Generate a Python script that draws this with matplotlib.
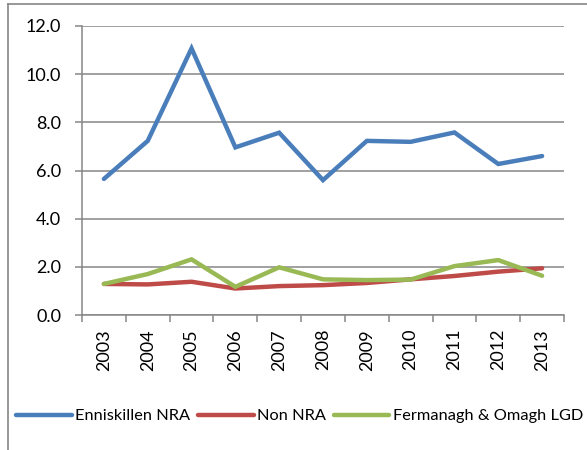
import numpy as np
from matplotlib import pyplot as plt
from matplotlib.lines import Line2D

plt.rcParams['font.family'] = ['Lato', 'DejaVu Sans']

years = ['2003', '2004', '2005', '2006', '2007', '2008', '2009', '2010', '2011', '2012', '2013']
enniskillen_nra = [5.65, 7.23, 11.07, 6.96, 7.57, 5.60, 7.23, 7.19, 7.58, 6.27, 6.60]
non_nra = [1.29, 1.27, 1.38, 1.10, 1.20, 1.24, 1.33, 1.48, 1.62, 1.80, 1.94]
fermanagh_omagh = [1.29, 1.70, 2.31, 1.17, 1.98, 1.48, 1.45, 1.47, 2.03, 2.28, 1.63]

series = [
    ('Enniskillen NRA', enniskillen_nra, '#4A7EBB'),
    ('Non NRA', non_nra, '#BE4B48'),
    ('Fermanagh & Omagh LGD', fermanagh_omagh, '#98B954'),
]

grey = '#868686'
W, H = 587, 450
fig = plt.figure(figsize=(W / 100, H / 100), dpi=100)
ax = fig.add_axes([82 / W, 1 - 315 / H, (564 - 82) / W, (315 - 26) / H])

x = np.arange(len(years))
for name, vals, col in series:
    ax.plot(x, vals, color=col, lw=3.2, label=name, solid_joinstyle='miter',
            solid_capstyle='round')

ax.set_xlim(-0.5, len(years) - 0.5)
ax.set_ylim(0, 12)
ax.set_yticks(np.arange(0, 12.1, 2))
ax.set_yticklabels([f'{v:.1f}' for v in np.arange(0, 12.1, 2)])
ax.set_xticks(np.arange(-0.5, len(years), 1))
ax.set_xticklabels([])
ax.set_xticks(x, minor=True)
ax.set_xticklabels(years, minor=True, rotation=90)

ax.grid(axis='y', color=grey, lw=1.1)
ax.set_axisbelow(True)
for s in ['top', 'right']:
    ax.spines[s].set_visible(False)
for s in ['left', 'bottom']:
    ax.spines[s].set_color(grey)
    ax.spines[s].set_linewidth(1.1)

ax.tick_params(axis='y', which='major', length=5, width=1.1, color=grey, pad=10, labelsize=13)
ax.tick_params(axis='x', which='major', length=5, width=1.1, color=grey)
ax.tick_params(axis='x', which='minor', length=0, pad=10, labelsize=13)

# outer chart frame (cropped at right and bottom)
fig.add_artist(Line2D([8 / W, 1], [1 - 4 / H, 1 - 4 / H], color=grey, lw=1.2))
fig.add_artist(Line2D([8 / W, 8 / W], [0, 1 - 4 / H], color=grey, lw=1.2))

fig.legend(loc='center left', bbox_to_anchor=(16 / W, 1 - 416 / H), ncol=3, frameon=False,
           fontsize=11.8, handlelength=3.4, handletextpad=0.22, columnspacing=0.45,
           borderpad=0, borderaxespad=0)

fig.savefig('out.png', dpi=100)
